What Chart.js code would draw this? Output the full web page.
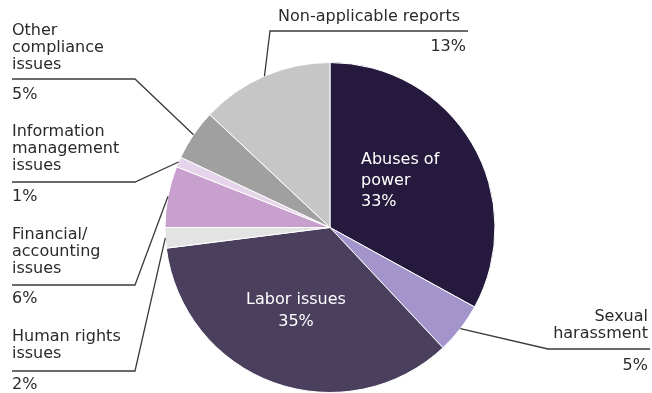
<!DOCTYPE html>
<html>
<head>
<meta charset="utf-8">
<script src="https://cdn.jsdelivr.net/npm/chart.js@4/dist/chart.umd.min.js"></script>
<style>
html,body{margin:0;padding:0;background:#fff;}
#wrap{width:652px;height:393px;position:relative;}
</style>
</head>
<body>
<div id="wrap"><canvas id="c" width="652" height="393"></canvas></div>
<script>
// ---- data ----
const categories = [
  "Abuses of power", "Sexual harassment", "Labor issues", "Human rights issues",
  "Financial/accounting issues", "Information management issues",
  "Other compliance issues", "Non-applicable reports"
];
const shares = [33, 5, 35, 2, 6, 1, 5, 13];
const labelLines = [
  ["Abuses of", "power"],
  ["Sexual", "harassment"],
  ["Labor issues"],
  ["Human rights", "issues"],
  ["Financial/", "accounting", "issues"],
  ["Information", "management", "issues"],
  ["Other", "compliance", "issues"],
  ["Non-applicable reports"]
];
const sliceColors = ["#251a3d", "#a395cb", "#4b3f5e", "#e3e3e3", "#c7a0cd", "#e6d5ea", "#a0a0a0", "#c6c6c6"];

// ---- layout of labels (positions only) ----
const FONT = '16px "DejaVu Sans", Verdana, sans-serif';
const TEXT = '#2a2a2a';
const layout = {
  0: {type: 'inside', x: 361, y: 160, lh: 21, align: 'left'},
  2: {type: 'inside', x: 296, y: 300, lh: 22, align: 'center'},
  7: {type: 'top', x: 278, y: 17, lineX0: 270, lineX1: 468, lineY: 31, pctX: 466, pctY: 47},
  6: {type: 'left', y: 31, lineY: 79, pctY: 95},
  5: {type: 'left', y: 132, lineY: 182, pctY: 197},
  4: {type: 'left', y: 235, lineY: 285, pctY: 299},
  3: {type: 'left', y: 337, lineY: 371, pctY: 385},
  1: {type: 'right', y: 317, lineY: 349, pctY: 366}
};

const labelPlugin = {
  id: 'pieLabels',
  afterDatasetsDraw(chart) {
    const ctx = chart.ctx;
    const meta = chart.getDatasetMeta(0);
    ctx.save();
    ctx.font = FONT;
    ctx.textBaseline = 'middle';
    meta.data.forEach((arc, i) => {
      const L = layout[i];
      if (!L) return;
      const pct = shares[i] + '%';
      const lines = labelLines[i];
      const mid = (arc.startAngle + arc.endAngle) / 2;
      const ex = arc.x + Math.cos(mid) * arc.outerRadius;
      const ey = arc.y + Math.sin(mid) * arc.outerRadius;
      ctx.strokeStyle = '#3a3a3a';
      ctx.lineWidth = 1.3;
      if (L.type === 'inside') {
        ctx.fillStyle = '#ffffff';
        ctx.textAlign = L.align;
        lines.concat([pct]).forEach((t, k) => ctx.fillText(t, L.x, L.y + k * L.lh));
      } else if (L.type === 'top') {
        ctx.fillStyle = TEXT;
        ctx.textAlign = 'left';
        ctx.fillText(lines[0], L.x, L.y);
        ctx.textAlign = 'right';
        ctx.fillText(pct, L.pctX, L.pctY);
        ctx.beginPath();
        ctx.moveTo(L.lineX1, L.lineY);
        ctx.lineTo(L.lineX0, L.lineY);
        ctx.lineTo(ex, ey);
        ctx.stroke();
      } else if (L.type === 'left') {
        ctx.fillStyle = TEXT;
        ctx.textAlign = 'left';
        lines.forEach((t, k) => ctx.fillText(t, 12, L.y + k * 17));
        ctx.fillText(pct, 12, L.pctY);
        ctx.beginPath();
        ctx.moveTo(12, L.lineY);
        ctx.lineTo(135, L.lineY);
        ctx.lineTo(ex, ey);
        ctx.stroke();
      } else if (L.type === 'right') {
        ctx.fillStyle = TEXT;
        ctx.textAlign = 'right';
        lines.forEach((t, k) => ctx.fillText(t, 648, L.y + k * 17));
        ctx.fillText(pct, 648, L.pctY);
        ctx.beginPath();
        ctx.moveTo(650, L.lineY);
        ctx.lineTo(548, L.lineY);
        ctx.lineTo(ex, ey);
        ctx.stroke();
      }
    });
    ctx.restore();
  }
};

new Chart(document.getElementById('c'), {
  type: 'pie',
  data: {
    labels: categories,
    datasets: [{
      data: shares,
      backgroundColor: sliceColors,
      borderColor: '#ffffff',
      borderWidth: 1
    }]
  },
  options: {
    responsive: false,
    animation: false,
    layout: {padding: {left: 164, right: 156, top: 62, bottom: 0}},
    plugins: {legend: {display: false}, tooltip: {enabled: false}}
  },
  plugins: [labelPlugin]
});
</script>
</body>
</html>
